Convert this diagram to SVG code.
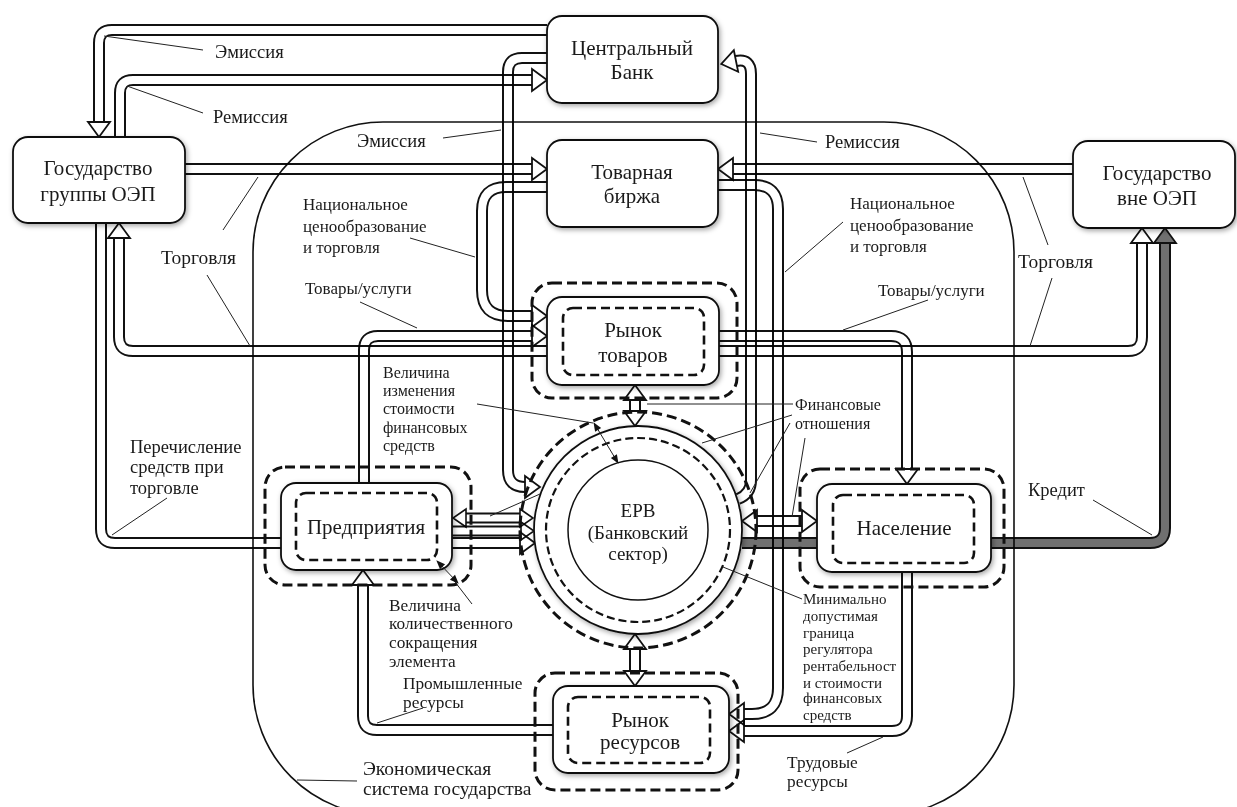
<svg xmlns="http://www.w3.org/2000/svg" width="1237" height="807" viewBox="0 0 1237 807">
<style>
text{font-family:"Liberation Serif","Times New Roman",serif;fill:#1a1a1a}
.n{font-size:21px;text-anchor:middle}
.l{font-size:17px}
.m{font-size:18.5px}
.b{font-size:19.5px}
.s{font-size:16px}
.s7{font-size:17.3px}
.xs{font-size:15px}
.box{fill:#fff;stroke:#111;stroke-width:1.8}
.d1{fill:none;stroke:#111;stroke-width:3;stroke-dasharray:10 5}
.d2{fill:none;stroke:#111;stroke-width:2.6;stroke-dasharray:9 5}
.t{mix-blend-mode:multiply}
.o{fill:none;stroke:#111;stroke-width:12}
.i{fill:none;stroke:#fff;stroke-width:8}
.os{fill:none;stroke:#111;stroke-width:11}
.is{fill:none;stroke:#fff;stroke-width:7}
.ig{fill:none;stroke:#707070;stroke-width:8}
.ld{fill:none;stroke:#222;stroke-width:1}
.reg{fill:none;stroke:#111;stroke-width:1.6}
</style>
<defs>
<filter id="sh" x="-20%" y="-20%" width="140%" height="140%">
<feDropShadow dx="1.5" dy="2" stdDeviation="2.5" flood-color="#000" flood-opacity="0.35"/>
</filter>
<marker id="ah" markerUnits="userSpaceOnUse" orient="auto-start-reverse" viewBox="-2 -13 20 26" markerWidth="20" markerHeight="26" refX="0" refY="0" overflow="visible">
<path d="M0,-11 L15,0 L0,11 Z" fill="#fff" stroke="#111" stroke-width="1.8"/>
</marker>
<marker id="ah2" markerUnits="userSpaceOnUse" orient="auto-start-reverse" viewBox="-2 -11 18 22" markerWidth="18" markerHeight="22" refX="0" refY="0" overflow="visible">
<path d="M0,-9 L13,0 L0,9 Z" fill="#fff" stroke="#111" stroke-width="1.6"/>
</marker>
<marker id="ahg" markerUnits="userSpaceOnUse" orient="auto-start-reverse" viewBox="-2 -13 20 26" markerWidth="20" markerHeight="26" refX="0" refY="0" overflow="visible">
<path d="M0,-11 L15,0 L0,11 Z" fill="#707070" stroke="#111" stroke-width="1.8"/>
</marker>
<marker id="sm" markerUnits="userSpaceOnUse" orient="auto-start-reverse" viewBox="0 -4 9 8" markerWidth="9" markerHeight="8" refX="8" refY="0" overflow="visible">
<path d="M0,-3.5 L9,0 L0,3.5 Z" fill="#111"/>
</marker>
</defs>
<rect width="1237" height="807" fill="#fff"/>

<g id="region">
<rect class="reg" x="253" y="122" width="761" height="693" rx="130" ry="130"/>
</g>

<g id="connectors">
<g class="t"><path class="o" d="M547,30 H112 Q99,30 99,43 V122"/><path class="i" d="M547,30 H112 Q99,30 99,43 V122" marker-end="url(#ah)"/></g>
<g class="t"><path class="o" d="M120,137 V93 Q120,80 133,80 H532"/><path class="i" d="M120,137 V93 Q120,80 133,80 H532" marker-end="url(#ah)"/></g>
<g class="t"><path class="o" d="M185,169 H532"/><path class="i" d="M185,169 H532" marker-end="url(#ah)"/></g>
<g class="t"><path class="o" d="M1073,169 H733"/><path class="i" d="M1073,169 H733" marker-end="url(#ah)"/></g>
<g class="t"><path class="o" d="M547,58 H522 Q508,58 508,72 V470 Q508,487 525,487"/><path class="i" d="M547,58 H522 Q508,58 508,72 V470 Q508,487 525,487" marker-end="url(#ah)"/></g>
<g class="t"><path class="o" d="M738,499 Q751,494 751,480 V74 Q751,58 736,61"/><path class="i" d="M738,499 Q751,494 751,480 V74 Q751,58 736,61" marker-end="url(#ah)"/></g>
<g class="t"><path class="o" d="M547,187 H506 Q482,187 482,211 V290 Q482,316 508,316 H532"/><path class="i" d="M547,187 H506 Q482,187 482,211 V290 Q482,316 508,316 H532" marker-end="url(#ah)"/></g>
<g class="t"><path class="o" d="M718,185 H754 Q778,185 778,209 V688 Q778,714 752,714 H744"/><path class="i" d="M718,185 H754 Q778,185 778,209 V688 Q778,714 752,714 H744" marker-end="url(#ah)"/></g>
<g class="t"><path class="o" d="M119,238 V337 Q119,351 133,351 H1128 Q1142,351 1142,337 V243"/><path class="i" d="M119,238 V337 Q119,351 133,351 H1128 Q1142,351 1142,337 V243" marker-start="url(#ah)" marker-end="url(#ah)"/></g>
<g class="t"><path class="o" d="M364,483 V350 Q364,336 378,336 H532"/><path class="i" d="M364,483 V350 Q364,336 378,336 H532" marker-end="url(#ah)"/></g>
<g class="t"><path class="o" d="M719,336 H891 Q907,336 907,352 V469"/><path class="i" d="M719,336 H891 Q907,336 907,352 V469" marker-end="url(#ah)"/></g>
<g class="t"><path class="o" d="M101,223 V529 Q101,543 115,543 H520"/><path class="i" d="M101,223 V529 Q101,543 115,543 H520" marker-end="url(#ah)"/></g>
<g class="t"><path class="os" d="M466,518 H520"/><path class="is" d="M466,518 H520" marker-start="url(#ah2)" marker-end="url(#ah2)"/></g>
<g class="t"><path class="os" d="M452,531 H521"/><path class="is" d="M452,531 H521" marker-end="url(#ah2)"/></g>
<g class="t"><path class="o" d="M635,400 V411"/><path class="i" d="M635,400 V411" marker-start="url(#ah)" marker-end="url(#ah)"/></g>
<g class="t"><path class="o" d="M635,649 V671"/><path class="i" d="M635,649 V671" marker-start="url(#ah)" marker-end="url(#ah)"/></g>
<g class="t"><path class="o" d="M757,521 H802"/><path class="i" d="M757,521 H802" marker-start="url(#ah)" marker-end="url(#ah)"/></g>
<g class="t"><path class="o" d="M742,543 H1150 Q1165,543 1165,528 V243"/><path class="ig" d="M742,543 H1150 Q1165,543 1165,528 V243" marker-end="url(#ahg)"/></g>
<g class="t"><path class="o" d="M553,730 H377 Q363,730 363,716 V585"/><path class="i" d="M553,730 H377 Q363,730 363,716 V585" marker-end="url(#ah)"/></g>
<g class="t"><path class="o" d="M907,572 V716 Q907,731 892,731 H744"/><path class="i" d="M907,572 V716 Q907,731 892,731 H744" marker-end="url(#ah)"/></g>
</g>

<g id="node-cb">
<rect class="box" filter="url(#sh)" x="547" y="16" width="171" height="87" rx="15"/>
<text class="n" x="632" y="55">Центральный</text>
<text class="n" x="632" y="79">Банк</text>
</g>
<g id="node-tb">
<rect class="box" filter="url(#sh)" x="547" y="140" width="171" height="87" rx="15"/>
<text class="n" x="632" y="179">Товарная</text>
<text class="n" x="632" y="203">биржа</text>
</g>
<g id="node-gos-oep">
<rect class="box" filter="url(#sh)" x="13" y="137" width="172" height="86" rx="15"/>
<text class="n" x="98" y="175">Государство</text>
<text class="n" x="98" y="201">группы ОЭП</text>
</g>
<g id="node-gos-vne">
<rect class="box" filter="url(#sh)" x="1073" y="141" width="162" height="87" rx="15"/>
<text class="n" x="1157" y="180">Государство</text>
<text class="n" x="1157" y="205">вне ОЭП</text>
</g>
<g id="node-rt">
<rect class="d1" x="532" y="283" width="205" height="115" rx="20"/>
<rect class="box" filter="url(#sh)" x="547" y="297" width="172" height="88" rx="15"/>
<rect class="d2" x="563" y="308" width="141" height="67" rx="10"/>
<text class="n" x="633" y="337">Рынок</text>
<text class="n" x="633" y="362">товаров</text>
</g>
<g id="node-pr">
<rect class="d1" x="265" y="467" width="206" height="118" rx="20"/>
<rect class="box" filter="url(#sh)" x="281" y="483" width="171" height="87" rx="15"/>
<rect class="d2" x="296" y="493" width="141" height="67" rx="10"/>
<text class="n" x="366" y="534">Предприятия</text>
</g>
<g id="node-nas">
<rect class="d1" x="800" y="469" width="204" height="118" rx="20"/>
<rect class="box" filter="url(#sh)" x="817" y="484" width="174" height="88" rx="15"/>
<rect class="d2" x="833" y="495" width="141" height="68" rx="10"/>
<text class="n" x="904" y="535">Население</text>
</g>
<g id="node-rr">
<rect class="d1" x="535" y="673" width="203" height="117" rx="20"/>
<rect class="box" filter="url(#sh)" x="553" y="686" width="176" height="87" rx="15"/>
<rect class="d2" x="568" y="697" width="142" height="66" rx="10"/>
<text class="n" x="640" y="727">Рынок</text>
<text class="n" x="640" y="749">ресурсов</text>
</g>
<g id="node-erv">
<circle class="d1" cx="638" cy="530" r="118"/>
<circle class="box" filter="url(#sh)" cx="638" cy="530" r="104"/>
<circle fill="none" stroke="#111" stroke-width="2.2" stroke-dasharray="8 4" cx="638" cy="530" r="92"/>
<circle fill="#fff" stroke="#111" stroke-width="1.5" cx="638" cy="530" r="70"/>
<text class="n" style="font-size:19px" x="638" y="517">ЕРВ</text>
<text class="n" style="font-size:19px" x="638" y="539">(Банковский</text>
<text class="n" style="font-size:19px" x="638" y="560">сектор)</text>
</g>

<g id="leaders">
<path class="ld" d="M104,36 L203,50"/>
<path class="ld" d="M127,86 L203,113"/>
<path class="ld" d="M443,138 L501,130"/>
<path class="ld" d="M760,133 L817,142"/>
<path class="ld" d="M410,238 L475,257"/>
<path class="ld" d="M843,222 L785,272"/>
<path class="ld" d="M223,230 L258,177"/>
<path class="ld" d="M207,275 L250,346"/>
<path class="ld" d="M1048,245 L1023,177"/>
<path class="ld" d="M1052,278 L1030,346"/>
<path class="ld" d="M360,302 L417,328"/>
<path class="ld" d="M928,300 L843,330"/>
<path class="ld" d="M477,404 L593,423"/>
<path class="ld" d="M793,404 L647,404"/>
<path class="ld" d="M792,415 L702,443"/>
<path class="ld" d="M790,423 L750,493"/>
<path class="ld" d="M805,438 L792,517"/>
<path class="ld" d="M490,516 L540,494"/>
<path class="ld" d="M167,498 L112,535"/>
<path class="ld" d="M1093,500 L1152,535"/>
<path class="ld" d="M472,604 L452,578"/>
<path class="ld" d="M377,723 L423,708"/>
<path class="ld" d="M802,599 L723,567"/>
<path class="ld" d="M297,780 L357,781"/>
<path class="ld" d="M847,753 L883,737"/>
<path class="ld" stroke-width="1.3" d="M594,423 L618,463" marker-start="url(#sm)" marker-end="url(#sm)"/>
<path class="ld" stroke-width="1.3" d="M437,561 L458,583" marker-start="url(#sm)" marker-end="url(#sm)"/>
</g>

<g id="labels">
<text class="m" x="215" y="58">Эмиссия</text>
<text class="m" x="213" y="123">Ремиссия</text>
<text class="m" x="357" y="147">Эмиссия</text>
<text class="m" x="825" y="148">Ремиссия</text>
<text class="l" x="303" y="210">Национальное</text>
<text class="l" x="303" y="232">ценообразование</text>
<text class="l" x="303" y="253">и торговля</text>
<text class="l" x="850" y="209">Национальное</text>
<text class="l" x="850" y="231">ценообразование</text>
<text class="l" x="850" y="252">и торговля</text>
<text class="b" x="161" y="264">Торговля</text>
<text class="b" x="1018" y="268">Торговля</text>
<text class="l" x="305" y="294">Товары/услуги</text>
<text class="l" x="878" y="296">Товары/услуги</text>
<text class="s" x="383" y="378">Величина</text>
<text class="s" x="383" y="396">изменения</text>
<text class="s" x="383" y="414">стоимости</text>
<text class="s" x="383" y="433">финансовых</text>
<text class="s" x="383" y="451">средств</text>
<text class="s" x="795" y="410">Финансовые</text>
<text class="s" x="795" y="429">отношения</text>
<text class="m" x="130" y="453">Перечисление</text>
<text class="m" x="130" y="473">средств при</text>
<text class="m" x="130" y="494">торговле</text>
<text class="m" x="1028" y="496">Кредит</text>
<text class="s7" x="389" y="611">Величина</text>
<text class="s7" x="389" y="629">количественного</text>
<text class="s7" x="389" y="648">сокращения</text>
<text class="s7" x="389" y="667">элемента</text>
<text class="s7" x="403" y="689">Промышленные</text>
<text class="s7" x="403" y="708">ресурсы</text>
<text class="xs" x="803" y="604">Минимально</text>
<text class="xs" x="803" y="621">допустимая</text>
<text class="xs" x="803" y="638">граница</text>
<text class="xs" x="803" y="654">регулятора</text>
<text class="xs" x="803" y="671">рентабельност</text>
<text class="xs" x="803" y="688">и стоимости</text>
<text class="xs" x="803" y="703">финансовых</text>
<text class="xs" x="803" y="720">средств</text>
<text class="s7" x="787" y="768">Трудовые</text>
<text class="s7" x="787" y="787">ресурсы</text>
<text class="b" x="363" y="775">Экономическая</text>
<text class="b" x="363" y="795">система государства</text>
</g>
</svg>
